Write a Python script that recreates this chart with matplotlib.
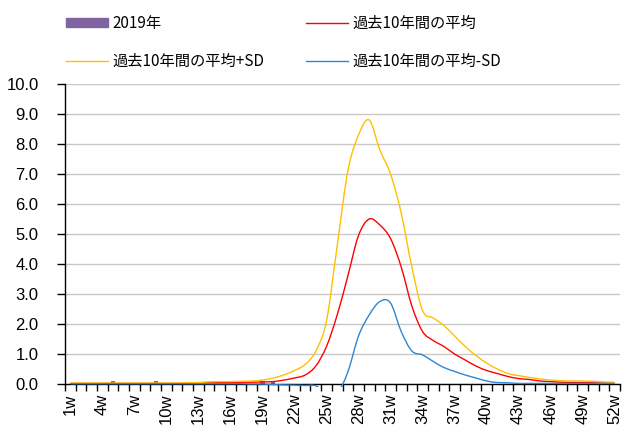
import matplotlib.pyplot as plt
import numpy as np
from matplotlib.lines import Line2D
from matplotlib.patches import Patch, Rectangle, PathPatch
from matplotlib.path import Path

plt.rcParams['font.family'] = ['Noto Sans CJK JP', 'DejaVu Sans']

weeks = np.arange(1, 53)
week_labels = [f"{w}w" for w in weeks]

# 2019 weekly values
y2019 = [0, 0, 0, 0, 0.1, 0, 0, 0, 0.1, 0,
         0, 0, 0, 0, 0, 0, 0, 0, 0.1, 0.1,
         0, 0, 0, 0, 0, 0, 0, 0, 0, 0,
         0, 0, 0, 0, 0, 0, 0, 0, 0, 0,
         0, 0, 0, 0, 0, 0, 0, 0, 0, 0,
         0, 0]

# past 10 years average
avg = [0.02, 0.02, 0.02, 0.02, 0.02, 0.02, 0.02, 0.02, 0.02, 0.02,
       0.02, 0.03, 0.04, 0.05, 0.05, 0.05, 0.06, 0.06, 0.07, 0.08,
       0.13, 0.2, 0.3, 0.6, 1.25, 2.3, 3.6, 4.95, 5.5, 5.3,
       4.85, 3.9, 2.6, 1.75, 1.45, 1.25, 1.0, 0.8, 0.6, 0.45,
       0.35, 0.25, 0.18, 0.15, 0.1, 0.08, 0.06, 0.05, 0.05, 0.04,
       0.03, 0.02]

# average + SD
avg_plus = [0.03, 0.03, 0.03, 0.03, 0.03, 0.03, 0.03, 0.03, 0.03, 0.03,
            0.03, 0.04, 0.05, 0.07, 0.08, 0.08, 0.09, 0.1, 0.13, 0.2,
            0.3, 0.45, 0.65, 1.1, 2.1, 4.6, 7.1, 8.3, 8.8, 7.8,
            7.0, 5.7, 3.9, 2.45, 2.2, 1.95, 1.6, 1.25, 0.95, 0.7,
            0.5, 0.35, 0.28, 0.22, 0.17, 0.13, 0.11, 0.1, 0.1, 0.09,
            0.07, 0.06]

# average - SD
avg_minus = [0.01, 0.01, 0.01, 0.01, 0.01, 0.01, 0.01, 0.01, 0.01, 0.01,
             0.01, 0.01, 0.01, 0.01, 0.01, 0.01, 0.01, 0.0, 0.0, -0.02,
             -0.03, -0.04, -0.05, -0.06, -0.3, -0.3, 0.4, 1.6, 2.3, 2.75,
             2.7, 1.75, 1.1, 0.97, 0.75, 0.55, 0.42, 0.3, 0.2, 0.1,
             0.05, 0.04, 0.02, 0.02, 0.02, 0.02, 0.02, 0.02, 0.02, 0.02,
             0.02, 0.02]

c_bar = '#8064A2'
c_avg = '#FF0000'
c_plus = '#FFC000'
c_minus = '#2E86D1'


def smooth_line(ax, x, y, color, clip=None, zorder=3):
    # excel style smoothed line: cubic bezier through every point
    p = np.column_stack([x, y]).astype(float)
    n = len(p)
    verts = [p[0]]
    codes = [Path.MOVETO]
    for i in range(n - 1):
        p0 = p[i - 1] if i > 0 else p[i]
        p3 = p[i + 2] if i + 2 < n else p[i + 1]
        c1 = p[i] + (p[i + 1] - p0) / 6
        c2 = p[i + 1] - (p3 - p[i]) / 6
        verts += [c1, c2, p[i + 1]]
        codes += [Path.CURVE4] * 3
    pp = PathPatch(Path(verts, codes), fill=False, edgecolor=color,
                   lw=1.0, zorder=zorder, transform=ax.transData)
    ax.add_patch(pp)
    if clip is not None:
        pp.set_clip_path(clip)
    return pp


fig = plt.figure(figsize=(6.24, 4.28), dpi=100)
ax = fig.add_axes([65/624, 1-384/428, 555/624, 300/428])

ax.bar(weeks, y2019, width=0.4, color=c_bar, zorder=2)
smooth_line(ax, weeks, avg, c_avg)
smooth_line(ax, weeks, avg_plus, c_plus)
# let the -SD line show slightly below the axis, like the original
clip = Rectangle((0, -0.01), 1, 1.01, transform=ax.transAxes, visible=False)
ax.add_patch(clip)
smooth_line(ax, weeks, avg_minus, c_minus, clip=clip, zorder=4)

ax.set_xlim(0.5, 52.5)
ax.set_ylim(0, 10)
yt = np.arange(0, 10.01, 1.0)
ax.set_yticks(yt)
ax.set_yticklabels([f"{v:.1f}" for v in yt], family=['Liberation Sans'], fontsize=12)
ax.yaxis.grid(True, color='#C8C8C8', lw=1.0)
ax.set_axisbelow(True)

ax.set_xticks(weeks[::3])
ax.set_xticklabels(week_labels[::3], rotation=90, family=['Liberation Sans'], fontsize=12)
ax.set_xticks(np.arange(0.5, 53, 1), minor=True)
ax.tick_params(axis='x', which='major', length=0, pad=7)
ax.tick_params(axis='x', which='minor', length=5, direction='out', width=1)
ax.tick_params(axis='y', length=6, width=1, direction='out', pad=13)

for s in ['top', 'right']:
    ax.spines[s].set_visible(False)
ax.spines['left'].set_linewidth(1.0)
ax.spines['bottom'].set_linewidth(1.0)

handles = [Patch(color=c_bar),
           Line2D([], [], color=c_plus, lw=1.0),
           Line2D([], [], color=c_avg, lw=1.0),
           Line2D([], [], color=c_minus, lw=1.0)]
labels = ['2019年', '過去10年間の平均+SD', '過去10年間の平均', '過去10年間の平均-SD']
fig.legend(handles, labels, ncol=2, loc='upper left',
           bbox_to_anchor=(52/624, 1-1/428), frameon=False,
           fontsize=11, handlelength=2.75, handleheight=0.5,
           handletextpad=0.3, columnspacing=2.7, labelspacing=1.4)

fig.savefig('out.png', dpi=100)
